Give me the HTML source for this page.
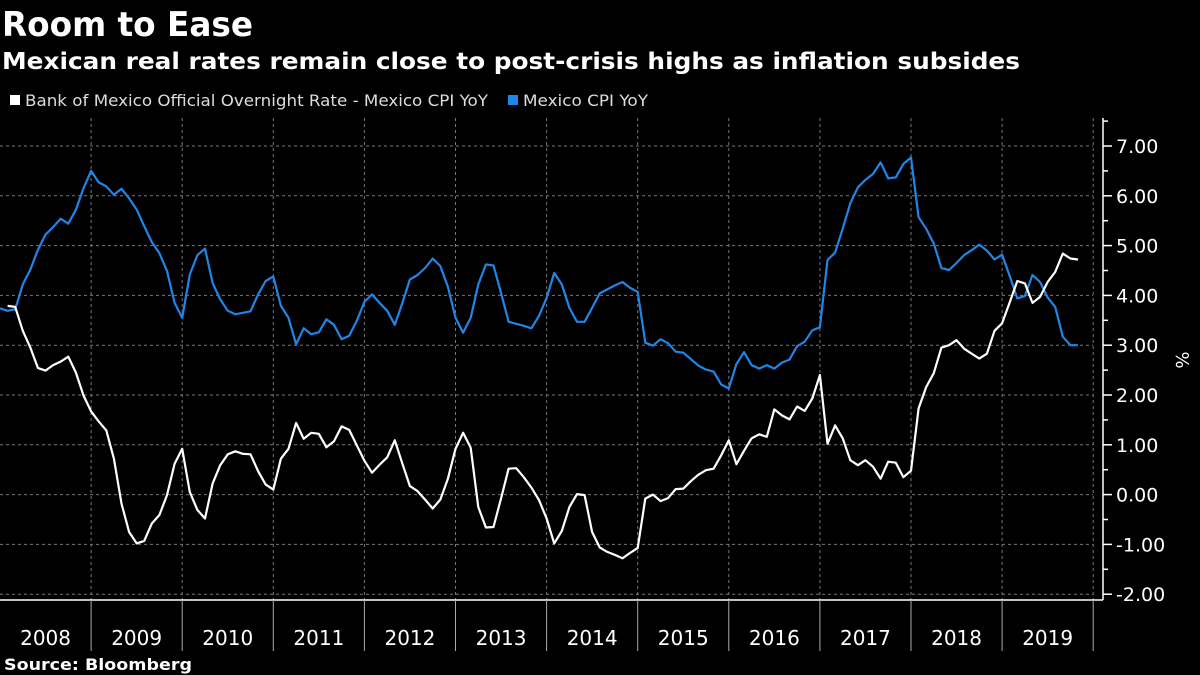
<!DOCTYPE html>
<html><head><meta charset="utf-8"><style>
html,body{margin:0;padding:0;background:#000;}
body{width:1200px;height:675px;overflow:hidden;font-family:"Liberation Sans","DejaVu Sans",sans-serif;color:#fff;position:relative;}
</style></head><body>
<svg width="1200" height="675" viewBox="0 0 1200 675" xmlns="http://www.w3.org/2000/svg" style="position:absolute;left:0;top:0">
<text x="2" y="36" font-size="34" font-weight="bold" fill="#fff" font-family="DejaVu Sans, sans-serif" textLength="251" lengthAdjust="spacingAndGlyphs">Room to Ease</text>
<text x="2" y="69" font-size="23.5" font-weight="bold" fill="#fff" font-family="DejaVu Sans, sans-serif" textLength="1018" lengthAdjust="spacingAndGlyphs">Mexican real rates remain close to post-crisis highs as inflation subsides</text>
<g font-family="DejaVu Sans, sans-serif" font-size="16">
<g><rect x="10" y="95" width="10" height="10" fill="#fff"/><text x="25" y="106" fill="#ddd" textLength="463" lengthAdjust="spacingAndGlyphs">Bank of Mexico Official Overnight Rate - Mexico CPI YoY</text></g>
<g><rect x="508" y="95" width="10" height="10" fill="#1f86e8"/><text x="523" y="106" fill="#ddd" textLength="125" lengthAdjust="spacingAndGlyphs">Mexico CPI YoY</text></g>
</g>
<g id="grid"></g>
<g id="xaxis"></g>
<g id="yaxis"></g>
<g id="series"></g>
<text x="0" y="0" transform="translate(1176,360) rotate(90)" font-size="18" fill="#fff" text-anchor="middle" font-family="DejaVu Sans, sans-serif">%</text>
<text x="4" y="670" font-size="16" font-weight="bold" fill="#fff" font-family="DejaVu Sans, sans-serif" textLength="188" lengthAdjust="spacingAndGlyphs">Source: Bloomberg</text>
</svg>
<script>
const years = ["2008","2009","2010","2011","2012","2013","2014","2015","2016","2017","2018","2019"];
const yTicks = [7,6,5,4,3,2,1,0,-1,-2];
const yTickLabels = ["7.00","6.00","5.00","4.00","3.00","2.00","1.00","0.00","-1.00","-2.00"];
const cpiStartMonth = 0;
const cpi = [3.74,3.69,3.72,4.22,4.52,4.92,5.22,5.37,5.54,5.44,5.72,6.15,6.5,6.27,6.19,6.02,6.14,5.95,5.72,5.39,5.07,4.85,4.49,3.85,3.55,4.42,4.81,4.94,4.25,3.92,3.69,3.62,3.65,3.68,4.02,4.29,4.38,3.79,3.55,3.02,3.34,3.22,3.26,3.52,3.41,3.12,3.19,3.49,3.87,4.02,3.85,3.69,3.41,3.85,4.32,4.41,4.55,4.74,4.59,4.17,3.55,3.25,3.55,4.22,4.62,4.6,4.05,3.47,3.43,3.39,3.34,3.59,3.95,4.45,4.22,3.75,3.47,3.47,3.75,4.04,4.12,4.2,4.27,4.15,4.07,3.05,2.99,3.12,3.04,2.87,2.85,2.72,2.59,2.51,2.47,2.21,2.13,2.62,2.86,2.6,2.53,2.6,2.53,2.65,2.71,2.98,3.07,3.3,3.36,4.71,4.86,5.34,5.85,6.17,6.32,6.44,6.67,6.35,6.37,6.64,6.77,5.57,5.34,5.04,4.55,4.51,4.65,4.81,4.91,5.02,4.9,4.72,4.82,4.39,3.94,3.99,4.41,4.27,3.96,3.77,3.17,3.0,3.0];
const realStartMonth = 1;
const realRate = [3.79,3.77,3.29,2.95,2.54,2.49,2.6,2.67,2.77,2.45,1.99,1.67,1.47,1.29,0.72,-0.18,-0.75,-0.98,-0.93,-0.58,-0.41,-0.01,0.62,0.92,0.05,-0.31,-0.48,0.22,0.59,0.81,0.87,0.82,0.81,0.47,0.2,0.1,0.72,0.92,1.44,1.12,1.24,1.22,0.95,1.07,1.37,1.3,0.99,0.68,0.44,0.6,0.75,1.09,0.62,0.17,0.07,-0.1,-0.28,-0.1,0.32,0.92,1.24,0.94,-0.25,-0.66,-0.65,-0.08,0.52,0.53,0.35,0.14,-0.11,-0.48,-0.98,-0.73,-0.25,0.01,-0.01,-0.75,-1.06,-1.15,-1.21,-1.28,-1.17,-1.07,-0.08,0,-0.13,-0.07,0.11,0.12,0.27,0.4,0.49,0.52,0.79,1.09,0.61,0.88,1.13,1.21,1.16,1.71,1.59,1.51,1.77,1.68,1.93,2.4,1.02,1.39,1.13,0.69,0.59,0.69,0.56,0.32,0.66,0.64,0.35,0.48,1.73,2.16,2.44,2.95,3.0,3.1,2.93,2.83,2.73,2.83,3.29,3.44,3.86,4.29,4.24,3.85,3.97,4.27,4.47,4.84,4.74,4.72];

const NS="http://www.w3.org/2000/svg";
const yearW = 91.1, plotRight = 1093, axisX = 1103, axisY = 600;
function xScale(m){ return m * yearW / 12; }
function yScale(v){ return 494.6 - v * 49.8; }
function mk(tag, attrs, parent){ const e=document.createElementNS(NS,tag); for(const k in attrs) e.setAttribute(k,attrs[k]); parent.appendChild(e); return e; }

const grid=document.getElementById('grid'), xa=document.getElementById('xaxis'), ya=document.getElementById('yaxis'), ser=document.getElementById('series');
yTicks.forEach((t,i)=>{
  const g=mk('line',{x1:0,x2:plotRight,y1:yScale(t),y2:yScale(t),stroke:'#777','stroke-width':1,'stroke-dasharray':'3,3'},grid);
  
  
  const tk=mk('line',{x1:axisX,x2:axisX+9,y1:yScale(t),y2:yScale(t),stroke:'#fff','stroke-width':1.5},ya);
  
  
  const lb=mk('text',{x:axisX+13,y:yScale(t)+7,'font-size':19,fill:'#fff','font-family':'DejaVu Sans, sans-serif'},ya);
  lb.textContent=yTickLabels[i];
  
  
  if(i<yTicks.length-1){
    const mt=mk('line',{x1:axisX,x2:axisX+5,y1:yScale(t-0.5),y2:yScale(t-0.5),stroke:'#fff','stroke-width':1.5},ya);
    
    
  }
});
const mt0=mk('line',{x1:axisX,x2:axisX+5,y1:yScale(7.5),y2:yScale(7.5),stroke:'#fff','stroke-width':1.5},ya);


const yl=mk('line',{x1:axisX,x2:axisX,y1:118,y2:axisY,stroke:'#fff','stroke-width':1.5},ya);


const xl=mk('line',{x1:0,x2:axisX,y1:axisY,y2:axisY,stroke:'#fff','stroke-width':1.5},xa);


years.forEach((y,i)=>{
  const xb=xScale((i+1)*12);
  const vg=mk('line',{x1:xb,x2:xb,y1:118,y2:axisY,stroke:'#777','stroke-width':1,'stroke-dasharray':'3,3'},grid);
  
  
  const sp=mk('line',{x1:xb,x2:xb,y1:axisY,y2:651,stroke:'#aaa','stroke-width':1},xa);
  
  
  const lb=mk('text',{x:xScale(i*12+6),y:645,'font-size':20,fill:'#fff','text-anchor':'middle','font-family':'DejaVu Sans, sans-serif'},xa);
  lb.textContent=y;
  
  
});
function line(data,start,color,name){
  const pts=data.map((v,i)=>xScale(start+i).toFixed(1)+','+yScale(v).toFixed(1)).join(' ');
  const p=mk('polyline',{points:pts,fill:'none',stroke:color,'stroke-width':2.2,'stroke-linejoin':'round'},ser);
  
  
}
line(cpi,cpiStartMonth,'#1f86e8','cpi-line');
line(realRate,realStartMonth,'#ffffff','real-rate-line');
</script>
</body></html>
